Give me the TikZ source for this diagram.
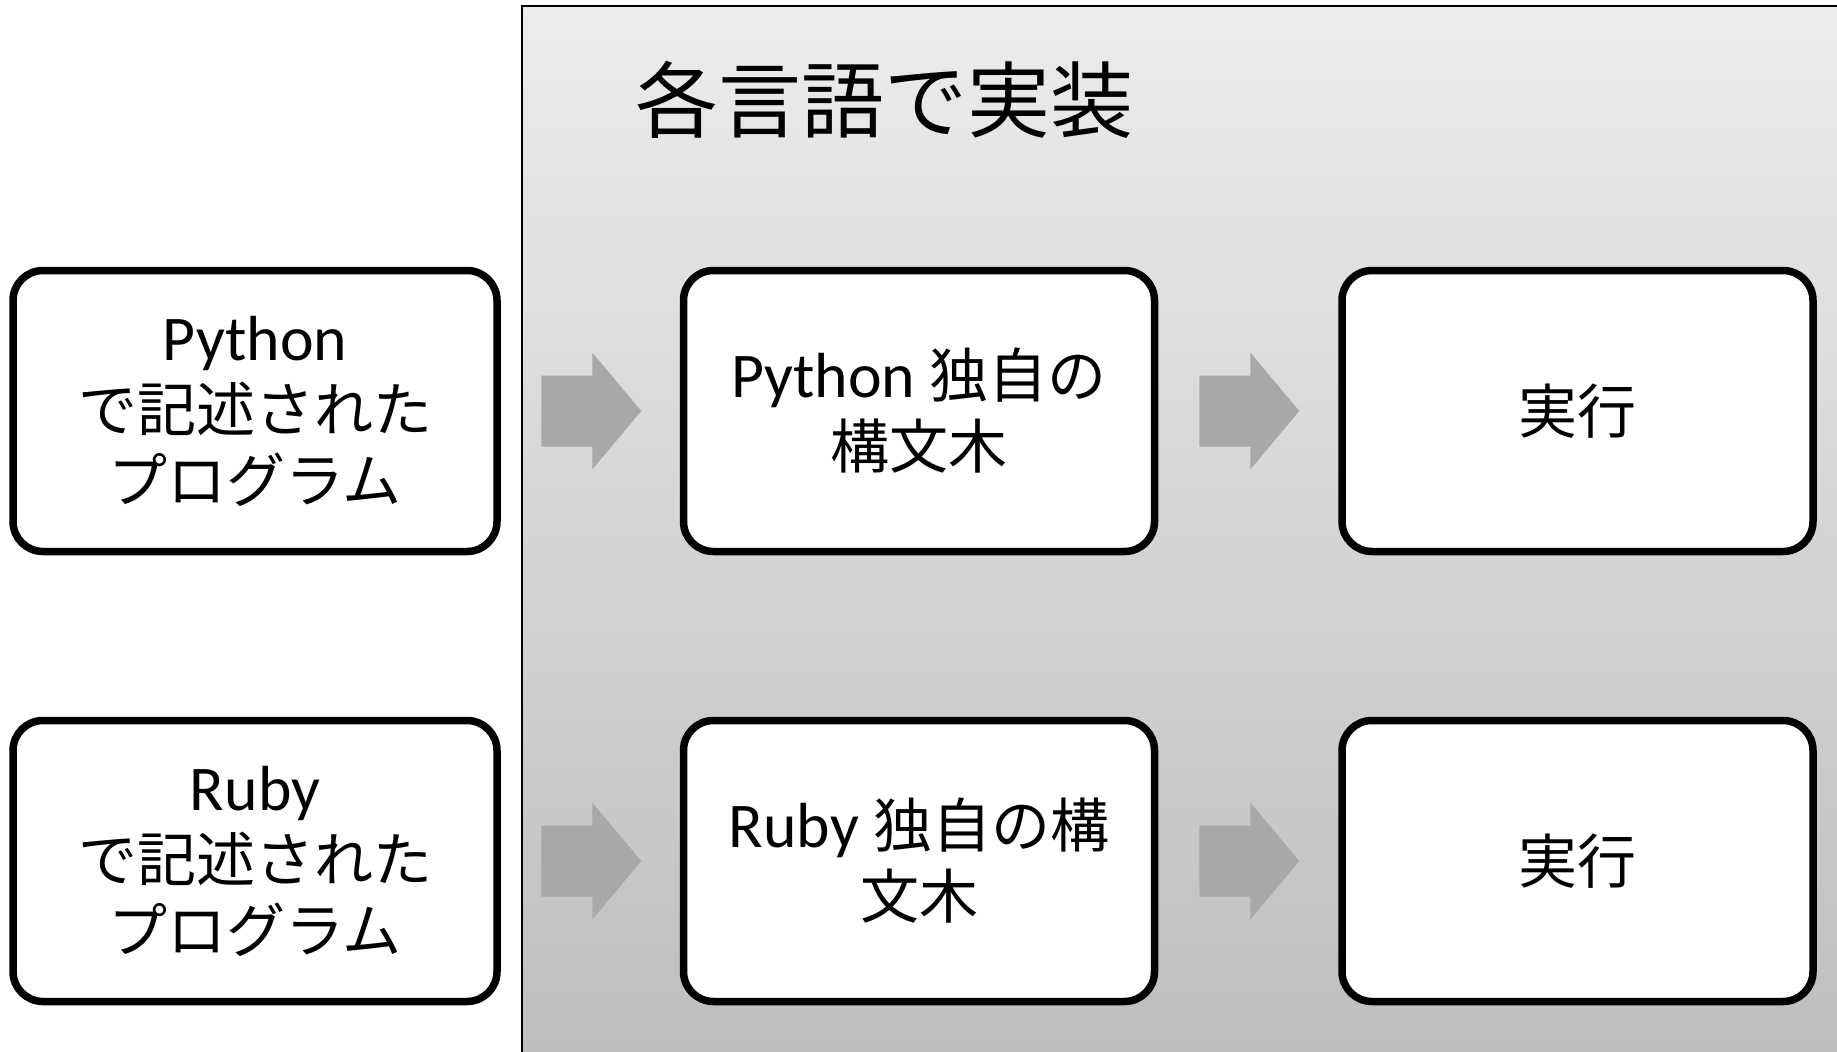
\documentclass[tikz,border=0pt]{standalone}
\usepackage{fontspec}
\setmainfont{Carlito}[Scale=1.08]
\newfontfamily\jp{Noto Sans CJK JP}
\usetikzlibrary{calc}
\definecolor{paneltop}{RGB}{236,236,236}
\definecolor{panelbot}{RGB}{190,190,190}
\definecolor{arrowgray}{RGB}{168,168,168}
\tikzset{
  procbox/.style={draw=black, line width=7.5pt, fill=white, rounded corners=30pt,
    minimum width=471pt, minimum height=281pt, align=center, inner sep=0pt,
    font=\fontsize{59}{71}\selectfont},
  fatarrow/.style={fill=arrowgray, draw=none}
}
\begin{document}
\begin{tikzpicture}[x=1pt,y=-1pt]
\useasboundingbox (0,0) rectangle (1837,1052);
\fill[white] (0,0) rectangle (1837,1052);
% panel
\shade[top color=paneltop, bottom color=panelbot] (522,6) rectangle (1837,1052);
\draw[line width=2pt] (522,1052) -- (522,6) -- (1837,6);
\node (title) at (884,100) {\fontsize{83}{90}\selectfont\jp 各言語で実装};
% row 1
\node[procbox, minimum width=484pt] (p1) at (255,411) {Python\\{\jp で記述された}\\{\jp プログラム}};
\node[procbox] (p2) at (919,411) {Python {\jp 独自の}\\{\jp 構文木}};
\node[procbox] (p3) at (1577.5,411) {\jp 実行};
% row 2
\node[procbox, minimum width=484pt] (r1) at (255,861) {Ruby\\{\jp で記述された}\\{\jp プログラム}};
\node[procbox] (r2) at (919,861) {Ruby {\jp 独自の構}\\{\jp 文木}};
\node[procbox] (r3) at (1577.5,861) {\jp 実行};
% arrows
\foreach \a/\b/\n in {p1/p2/ap1, p2/p3/ap2, r1/r2/ar1, r2/r3/ar2}{
  \coordinate (\n) at ($(\a.east)!0.5!(\b.west)$);
  \fill[fatarrow] (\n) ++(-49,-35.5) -- ++(51,0) -- ++(0,-23) -- ++(49,58.5)
    -- ++(-49,58.5) -- ++(0,-23) -- ++(-51,0) -- cycle;
}
\end{tikzpicture}
\end{document}
